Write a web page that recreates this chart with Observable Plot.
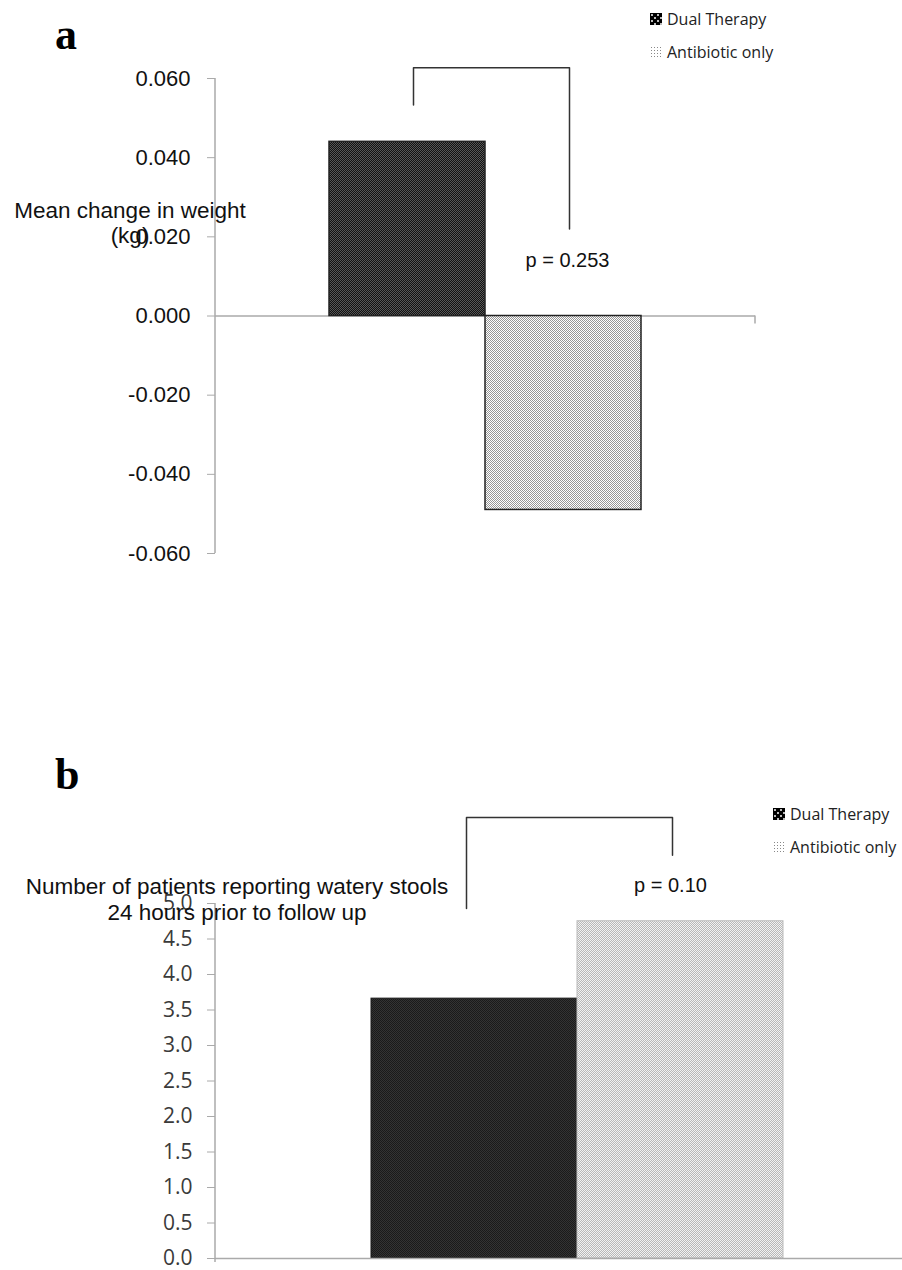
<!DOCTYPE html>
<html><head><meta charset="utf-8">
<script src="https://cdn.jsdelivr.net/npm/d3@7"></script>
<script src="https://cdn.jsdelivr.net/npm/@observablehq/plot@0.6"></script>
<style>
html,body{margin:0;padding:0;background:#fff;}
#page{position:relative;width:902px;height:1270px;overflow:hidden;background:#fff;}
#page > svg{position:absolute;left:0;}
.abs{position:absolute;}
.letter{font-family:"Liberation Serif","Times New Roman",serif;font-weight:bold;font-size:44px;line-height:44px;color:#000;}
.ylab{font-family:"Liberation Sans",Arial,sans-serif;font-size:22.5px;color:#111;text-align:center;line-height:25px;white-space:nowrap;}
.leg{font-family:"Open Sans",sans-serif;font-size:16px;color:#222;display:flex;align-items:center;white-space:nowrap;height:20px;}
.leg svg{margin-right:5px;}
[aria-label="y-axis"] line,[aria-label="y-axis tick"]{stroke:#aaa;}
</style></head><body>
<svg width="0" height="0" style="position:absolute">
<defs>
<pattern id="pDualA" width="2" height="2" patternUnits="userSpaceOnUse">
<rect width="2" height="2" fill="#121212"/><rect width="1" height="1" fill="#575757"/><rect x="1" y="1" width="1" height="1" fill="#575757"/>
</pattern>
<pattern id="pAntiA" width="2" height="2" patternUnits="userSpaceOnUse">
<rect width="2" height="2" fill="#ffffff"/><rect width="1" height="1" fill="#969696"/><rect x="1" y="1" width="1" height="1" fill="#969696"/>
</pattern>
<pattern id="pDualB" width="2" height="2" patternUnits="userSpaceOnUse">
<rect width="2" height="2" fill="#1a1a1a"/><rect width="1" height="1" fill="#333333"/><rect x="1" y="1" width="1" height="1" fill="#333333"/>
</pattern>
<pattern id="pAntiB" width="2" height="2" patternUnits="userSpaceOnUse">
<rect width="2" height="2" fill="#f2f2f2"/><rect width="1" height="1" fill="#b8b8b8"/><rect x="1" y="1" width="1" height="1" fill="#b8b8b8"/>
</pattern>
<pattern id="pLegDual" width="6" height="6" patternUnits="userSpaceOnUse">
<rect width="6" height="6" fill="#000"/><rect x="1" y="1" width="2" height="2" fill="#bbb"/><rect x="4" y="4" width="2" height="2" fill="#bbb"/>
</pattern>
<pattern id="pLegAnti" width="3" height="3" patternUnits="userSpaceOnUse">
<rect width="3" height="3" fill="#fff"/><rect x="1" y="1" width="1" height="1" fill="#888"/>
</pattern>
</defs>
</svg>
<div id="page"></div>
<script>
// ---- data ----
const groups = ["Dual Therapy", "Antibiotic only"];
const weightChange = [0.044, -0.049];           // panel a (kg)
const wateryStools = [3.66, 4.75];              // panel b
const ticksA = [-0.06, -0.04, -0.02, 0, 0.02, 0.04, 0.06];
const tickLabelsA = ["-0.060", "-0.040", "-0.020", "0.000", "0.020", "0.040", "0.060"];
const ticksB = [0, 0.5, 1, 1.5, 2, 2.5, 3, 3.5, 4, 4.5, 5];
const tickLabelsB = ["0.0", "0.5", "1.0", "1.5", "2.0", "2.5", "3.0", "3.5", "4.0", "4.5", "5.0"];
const bracketGroups = ["Dual Therapy", "Dual Therapy", "Antibiotic only", "Antibiotic only"];
const bracketAValues = [0.0533, 0.0627, 0.0627, 0.0220];
const bracketBValues = [4.93, 6.21, 6.21, 5.68];
const pLabels = ["p = 0.253", "p = 0.10"];
const pLabelValues = [0.0139, 5.25];
const yLabelA = ["Mean change in weight", "(kg)"];
const yLabelB = ["Number of patients reporting watery stools", "24 hours prior to follow up"];
const fillsA = ["url(#pDualA)", "url(#pAntiA)"];
const fillsB = ["url(#pDualB)", "url(#pAntiB)"];
const legendFills = ["url(#pLegDual)", "url(#pLegAnti)"];

const page = document.getElementById("page");

function addAxisDecor(chart, opts) {
  const xs = chart.scale("x"), ys = chart.scale("y");
  const svg = d3.select(chart);
  const x0 = xs.range[0], x1 = xs.range[1];
  const yr = ys.range;
  svg.append("line").attr("x1", x0).attr("x2", x0)
    .attr("y1", Math.min(...yr)).attr("y2", Math.max(...yr) + (opts.extend || 0))
    .attr("stroke", "#aaa").attr("stroke-width", 1.5);
  if (opts.endTick) {
    const y0 = ys.apply(0);
    svg.append("line").attr("x1", x1).attr("x2", x1).attr("y1", y0).attr("y2", y0 + 8)
      .attr("stroke", "#aaa").attr("stroke-width", 1.5);
  }
}

// ---- panel a ----
const dataA = groups.map((g, i) => ({group: g, value: weightChange[i], fill: fillsA[i]}));
const bracketA = bracketGroups.map((g, i) => ({group: g, value: bracketAValues[i]}));
const chartA = Plot.plot({
  width: 902, height: 635,
  marginTop: 78, marginBottom: 82, marginLeft: 215, marginRight: 147,
  style: {fontFamily: "Liberation Sans, Arial, sans-serif", fontSize: "22px", color: "#111", background: "transparent", overflow: "visible"},
  x: {domain: groups, axis: null, paddingInner: 0, paddingOuter: 0.73, align: 0.5},
  y: {domain: [-0.06, 0.06], ticks: ticksA, tickFormat: d => tickLabelsA[ticksA.indexOf(d)], tickSize: 8, tickPadding: 17, label: null},
  marks: [
    Plot.ruleY([0], {stroke: "#aaa", strokeWidth: 1.5}),
    ...dataA.map(d => Plot.barY([d], {x: "group", y: "value", fill: d.fill, stroke: "#222", strokeWidth: 1.5})),
    Plot.line(bracketA, {x: "group", y: "value", stroke: "#333", strokeWidth: 1.5, dx: 6}),
    Plot.text([{group: groups[1], value: pLabelValues[0], label: pLabels[0]}],
      {x: "group", y: "value", text: "label", dx: 4, fontSize: 20, fill: "#111"})
  ]
});
addAxisDecor(chartA, {endTick: true});
chartA.style.top = "0px";
page.appendChild(chartA);

// ---- panel b ----
const dataB = groups.map((g, i) => ({group: g, value: wateryStools[i], fill: fillsB[i]}));
const bracketB = bracketGroups.map((g, i) => ({group: g, value: bracketBValues[i]}));
const chartB = Plot.plot({
  width: 902, height: 635,
  marginTop: 268, marginBottom: 12, marginLeft: 215, marginRight: 0,
  style: {fontFamily: "Open Sans, sans-serif", fontSize: "21px", color: "#3a3a3a", background: "transparent", overflow: "visible"},
  x: {domain: groups, axis: null, paddingInner: 0, paddingOuter: 0.667, align: 0.567},
  y: {domain: [0, 5], ticks: ticksB, tickFormat: d => tickLabelsB[ticksB.indexOf(d)], tickSize: 8, tickPadding: 15, label: null},
  marks: [
    ...dataB.map((d, i) => Plot.barY([d], {x: "group", y: "value", fill: d.fill, stroke: i ? "#bbb" : "#1a1a1a", strokeWidth: 1})),
    Plot.ruleY([0], {stroke: "#aaa", strokeWidth: 1.5}),
    Plot.line(bracketB, {x: "group", y: "value", stroke: "#333", strokeWidth: 1.5, dx: -8}),
    Plot.text([{group: groups[1], value: pLabelValues[1], label: pLabels[1]}],
      {x: "group", y: "value", text: "label", dx: -10, fontSize: 20, fill: "#111", fontFamily: "Liberation Sans, Arial, sans-serif"})
  ]
});
addAxisDecor(chartB, {extend: 4});
chartB.style.top = "635px";
page.appendChild(chartB);

// ---- html text: panel letters, y labels, legends ----
function addDiv(cls, html, left, top, width) {
  const d = document.createElement("div");
  d.className = "abs " + cls;
  d.innerHTML = html;
  d.style.left = left + "px"; d.style.top = top + "px";
  if (width) d.style.width = width + "px";
  page.appendChild(d);
  return d;
}
addDiv("letter", "a", 55, 13);
addDiv("letter", "b", 55, 753);
addDiv("ylab", yLabelA.join("<br>"), 0, 198, 260);
const lb = addDiv("ylab", yLabelB.join("<br>"), 0, 874, 474);
lb.style.lineHeight = "26px";

function legend(left, tops) {
  groups.forEach((g, i) => {
    const sw = `<svg width="12" height="12"><rect width="12" height="12" fill="${legendFills[i]}"/></svg>`;
    addDiv("leg", sw + "<span>" + g + "</span>", left, tops[i]);
  });
}
legend(650, [9, 42]);
legend(773, [804, 837]);
</script>
</body></html>
